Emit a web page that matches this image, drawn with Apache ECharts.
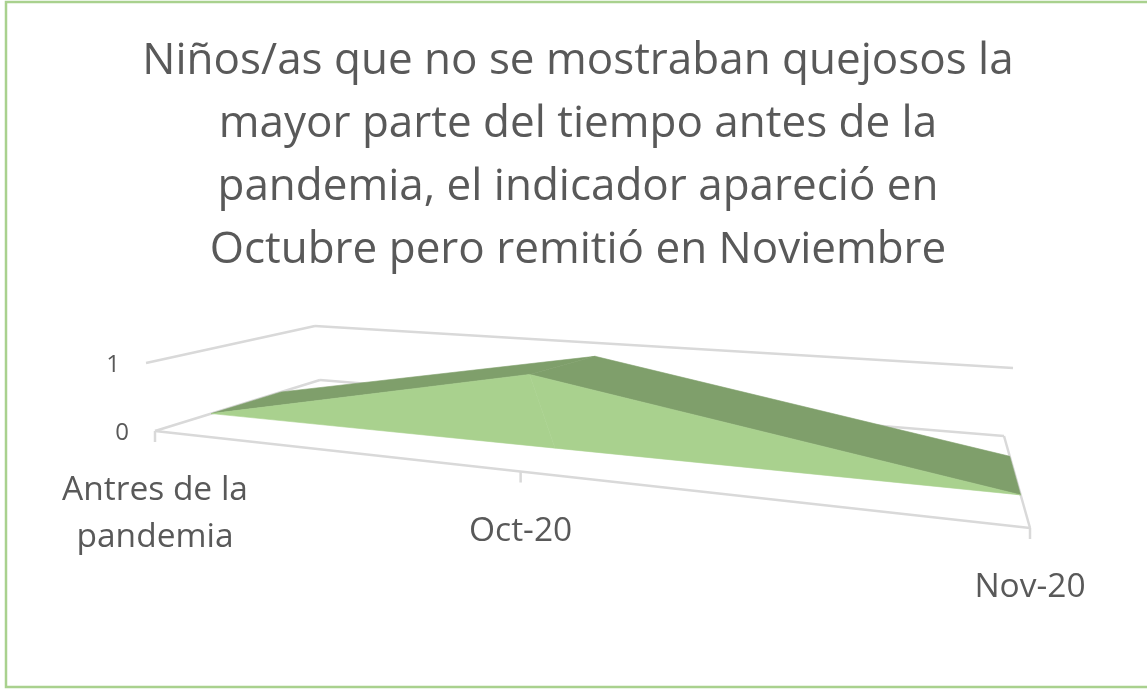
<!DOCTYPE html>
<html>
<head>
<meta charset="utf-8">
<style>
  html, body { margin: 0; padding: 0; background: #fff; }
  #grafico { width: 1147px; height: 689px; }
</style>
<script src="https://cdn.jsdelivr.net/npm/echarts@6/dist/echarts.min.js"></script>
</head>
<body>
<div id="grafico"></div>
<script>
const titulo = 'Niños/as que no se mostraban quejosos la\nmayor parte del tiempo antes de la\npandemia, el indicador apareció en\nOctubre pero remitió en Noviembre';
const categorias = ['Antres de la\npandemia', 'Oct-20', 'Nov-20'];
const valores = [0, 1, 0];
const ticksValor = [0, 1];

// Esquinas de la caja 3D en pantalla: [frente-izq, frente-der, fondo-der, fondo-izq]
const suelo = [[155, 431], [1030, 528], [1004, 436], [320, 380]];
const techo = [[146, 363], [886, 417], [1013, 368], [315, 326]];
// Profundidad de la cara frontal y trasera del area (0 = frente, 1 = fondo)
const profFrente = 0.29;
const profFondo = 0.72;

const colorFrente = '#A9D18E';
const colorArriba = '#7F9F6B';
const colorLinea = '#D9D9D9';
const colorTexto = '#595959';
const fuente = '"Open Sans", sans-serif';

// Homografia del cuadrado unidad al cuadrilatero
function homografia(q) {
  const [[x0, y0], [x1, y1], [x2, y2], [x3, y3]] = q;
  const dx1 = x1 - x2, dx2 = x3 - x2, sx = x0 - x1 + x2 - x3;
  const dy1 = y1 - y2, dy2 = y3 - y2, sy = y0 - y1 + y2 - y3;
  const det = dx1 * dy2 - dx2 * dy1;
  const g = (sx * dy2 - dx2 * sy) / det;
  const h = (dx1 * sy - sx * dy1) / det;
  const a = x1 - x0 + g * x1, b = x3 - x0 + h * x3;
  const d = y1 - y0 + g * y1, e = y3 - y0 + h * y3;
  return (u, v) => {
    const w = g * u + h * v + 1;
    return [(a * u + b * v + x0) / w, (d * u + e * v + y0) / w];
  };
}
const hSuelo = homografia(suelo);
const hTecho = homografia(techo);

// Pasa un punto de la rejilla (escalas de ECharts) a la caja 3D
function proyectar(params, punto, prof) {
  const r = params.coordSys;
  const u = (punto[0] - r.x) / r.width;
  const v = (r.y + r.height - punto[1]) / r.height;
  const p0 = hSuelo(u, prof);
  const p1 = hTecho(u, prof);
  return [p0[0] + (p1[0] - p0[0]) * v, p0[1] + (p1[1] - p0[1]) * v];
}

function linea(a, b) {
  return {
    type: 'line',
    shape: { x1: a[0], y1: a[1], x2: b[0], y2: b[1] },
    style: { stroke: colorLinea, lineWidth: 2.5 }
  };
}

function poligono(puntos, color) {
  return {
    type: 'polygon',
    shape: { points: puntos },
    style: { fill: color, stroke: color, lineWidth: 0.6 }
  };
}

function dibujarCaja(params, api) {
  const ultimo = categorias.length - 1;
  const p = (x, y, prof) => proyectar(params, api.coord([x, y]), prof);
  return {
    type: 'group',
    children: [
      linea(p(0, 0, 0), p(ultimo, 0, 0)),
      linea(p(0, 0, 0), p(0, 0, 1)),
      linea(p(0, 0, 1), p(ultimo, 0, 1)),
      linea(p(ultimo, 0, 1), p(ultimo, 0, 0)),
      linea(p(0, 1, 0), p(0, 1, 1)),
      linea(p(0, 1, 1), p(ultimo, 1, 1))
    ]
  };
}

function dibujarArea(params, api) {
  const i = params.dataIndex;
  if (i >= valores.length - 1) return null;
  const p = (x, y, prof) => proyectar(params, api.coord([x, y]), prof);
  const v0 = valores[i];
  const v1 = valores[i + 1];
  return {
    type: 'group',
    children: [
      poligono([p(i, v0, profFrente), p(i, v0, profFondo), p(i + 1, v1, profFondo), p(i + 1, v1, profFrente)], colorArriba),
      poligono([p(i, 0, profFrente), p(i, v0, profFrente), p(i + 1, v1, profFrente), p(i + 1, 0, profFrente)], colorFrente)
    ]
  };
}

function dibujarEtiquetaX(params, api) {
  const i = params.dataIndex;
  const a = proyectar(params, api.coord([i, 0]), 0);
  return {
    type: 'group',
    children: [
      linea(a, [a[0], a[1] + 11]),
      {
        type: 'text',
        style: {
          x: a[0], y: a[1] + 36, text: categorias[i], align: 'center', verticalAlign: 'top',
          fill: colorTexto, font: '33.5px ' + fuente, lineHeight: 47
        }
      }
    ]
  };
}

function dibujarEtiquetaY(params, api) {
  const a = proyectar(params, api.coord([0, api.value(1)]), 0);
  return {
    type: 'text',
    style: {
      x: a[0] - 26, y: a[1] + 2, text: String(api.value(1)), align: 'right', verticalAlign: 'middle',
      fill: colorTexto, font: '24px ' + fuente
    }
  };
}

const grafico = echarts.init(document.getElementById('grafico'));
grafico.setOption({
  animation: false,
  title: {
    text: titulo,
    left: 573,
    top: 25,
    textAlign: 'center',
    textStyle: { color: colorTexto, fontFamily: fuente, fontWeight: 'normal', fontSize: 44, lineHeight: 63 }
  },
  grid: { left: 100, right: 100, top: 300, bottom: 100 },
  xAxis: { type: 'category', data: categorias, boundaryGap: false, show: false },
  yAxis: { type: 'value', min: 0, max: 1, interval: 1, show: false },
  graphic: [{
    type: 'rect',
    silent: true,
    shape: { x: 6, y: 2, width: 1170, height: 685 },
    style: { fill: 'none', stroke: '#A9D18E', lineWidth: 2.5 }
  }],
  series: [
    { type: 'custom', name: 'caja', z: 1, renderItem: dibujarCaja, data: [[0, 0]], silent: true },
    { type: 'custom', name: 'Area', z: 2, renderItem: dibujarArea, data: valores.map((v, i) => [i, v]), silent: true },
    { type: 'custom', name: 'ejeX', z: 3, renderItem: dibujarEtiquetaX, data: categorias.map((c, i) => [i, 0]), silent: true },
    { type: 'custom', name: 'ejeY', z: 3, renderItem: dibujarEtiquetaY, data: ticksValor.map(t => [0, t]), silent: true }
  ]
});
</script>
</body>
</html>
